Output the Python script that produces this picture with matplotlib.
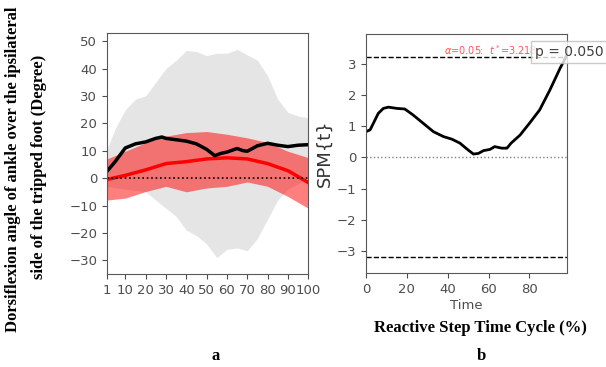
import numpy as np
import matplotlib.pyplot as plt

# panel a: mean curves and SD bands (x = % of cycle)
x_a = [1, 5, 10, 15, 20, 25, 28, 30, 35, 40, 45, 50, 54, 57, 60, 65, 68, 70, 75, 80, 85, 90, 95, 100]
black_mean = [2.5, 6, 11, 12.5, 13.2, 14.5, 15, 14.5, 14, 13.5, 12.5, 10.5, 8.2, 9, 9.5, 10.8, 10, 9.8, 11.8, 12.7, 12, 11.5, 12, 12.2]

x_b = [1, 10, 20, 30, 40, 50, 60, 70, 80, 90, 100]
red_mean = [-0.5, 1, 3, 5.3, 6, 7, 7.4, 7, 5.3, 2.7, -1.6]
red_upper = [7, 9.8, 12.9, 15.3, 16.6, 17, 16, 14.7, 13, 9.8, 7.5]
red_lower = [-8, -7.3, -4.9, -3, -5, -3.6, -3, -1.4, -3, -6.7, -11]

x_g = [1, 5, 10, 15, 20, 25, 30, 35, 40, 45, 50, 55, 60, 65, 70, 75, 80, 85, 90, 95, 100]
gray_upper = [10.5, 18, 25, 28.8, 30, 35, 40, 43, 46.6, 46.2, 44.7, 45.6, 45.6, 47, 45, 43, 37.4, 28.8, 24, 22.7, 22]
gray_lower = [-3, -3.5, -4, -4.5, -5, -8, -11, -14, -19, -21, -24, -29, -26, -25.5, -26.5, -22, -15, -8, -4, -2, 0]

# panel b: SPM{t} trajectory
t_spm = [0, 2, 3.6, 6, 8.5, 11, 15, 19, 23, 28, 33, 38, 42, 46, 50, 52.6, 55, 57.5, 60.7, 63, 66.4, 69, 71, 75.4, 80, 85, 90, 95, 98]
spm_t = [0.83, 0.89, 1.1, 1.42, 1.58, 1.62, 1.58, 1.56, 1.37, 1.1, 0.83, 0.67, 0.59, 0.46, 0.24, 0.11, 0.13, 0.22, 0.26, 0.35, 0.3, 0.3, 0.46, 0.72, 1.1, 1.53, 2.17, 2.87, 3.25]
t_crit = 3.218

fig = plt.figure(figsize=(6.06, 3.67), dpi=100)
serif = 'Liberation Serif'
tick_col = '0.3'

# ---- panel a
ax1 = fig.add_axes([0.1766, 0.2534, 0.332, 0.657])
ax1.fill_between(x_g, gray_lower, gray_upper, color='0.55', alpha=0.22, lw=0)
ax1.fill_between(x_b, red_lower, red_upper, color='red', alpha=0.5, lw=0)
ax1.plot(x_b, red_mean, color='red', lw=2.5)
ax1.plot(x_a, black_mean, color='black', lw=2.5)
ax1.axhline(0, color='k', ls=':', lw=1.2)
ax1.set_xlim(1, 100)
ax1.set_ylim(-35, 53)
ax1.set_xticks([1, 10, 20, 30, 40, 50, 60, 70, 80, 90, 100])
ax1.set_yticks([-30, -20, -10, 0, 10, 20, 30, 40, 50])

# ---- panel b
ax2 = fig.add_axes([0.604, 0.256, 0.332, 0.651])
ax2.plot(t_spm, spm_t, color='k', lw=2)
ax2.axhline(0, color='0.5', ls=':', lw=1)
ax2.axhline(t_crit, color='k', ls='--', lw=1)
ax2.axhline(-t_crit, color='k', ls='--', lw=1)
ax2.set_xlim(0, 98.5)
ax2.set_ylim(-3.72, 3.97)
ax2.set_xticks([0, 20, 40, 60, 80])
ax2.set_yticks([-3, -2, -1, 0, 1, 2, 3])
ax2.set_ylabel('SPM{t}', fontsize=13, color='0.2', labelpad=2)
ax2.set_xlabel('Time', fontsize=9.5, color='0.3', labelpad=2)
ax2.text(84, t_crit + 0.02, r'$\alpha$=0.05:  $t^*$=3.218', color='#ff5555',
         fontsize=7, ha='right', va='bottom')
ax2.text(0.84, 0.925, 'p = 0.050', transform=ax2.transAxes, fontsize=10, color='0.25',
         ha='left', va='center',
         bbox=dict(boxstyle='square,pad=0.3', fc='white', ec='0.75', alpha=0.8))

for ax in (ax1, ax2):
    ax.tick_params(labelsize=9.5, colors=tick_col, labelcolor=tick_col)
    for s in ax.spines.values():
        s.set_color('0.35')

fig.text(0.022, 0.54, 'Dorsiflexion angle of ankle over the ipsilateral', rotation=90,
         fontsize=12, fontweight='bold', family=serif, ha='center', va='center')
fig.text(0.064, 0.545, 'side of the tripped foot (Degree)', rotation=90,
         fontsize=12, fontweight='bold', family=serif, ha='center', va='center')
fig.text(0.792, 0.106, 'Reactive Step Time Cycle (%)', fontsize=12, fontweight='bold',
         family=serif, ha='center', va='center')
fig.text(0.355, 0.03, 'a', fontsize=12, fontweight='bold', family=serif, ha='center', va='center')
fig.text(0.795, 0.03, 'b', fontsize=12, fontweight='bold', family=serif, ha='center', va='center')

fig.savefig('out.png', dpi=100)
